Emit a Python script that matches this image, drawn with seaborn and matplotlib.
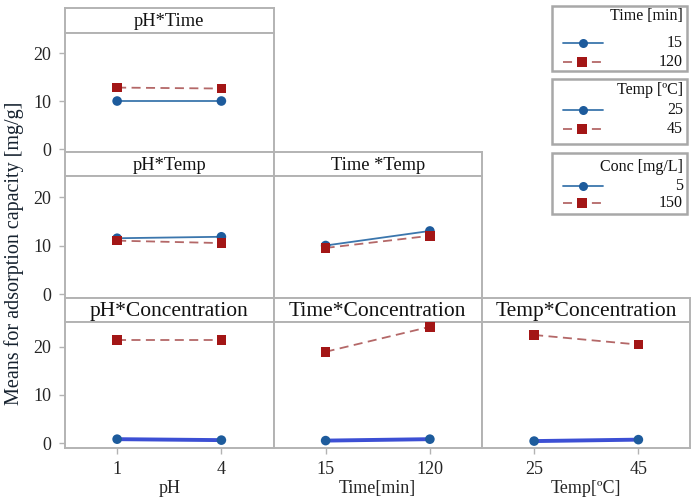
import numpy as np
import pandas as pd
import matplotlib
matplotlib.use("Agg")
import matplotlib.pyplot as plt
from matplotlib.patches import Rectangle
import seaborn as sns

# ---------------- data ----------------
ph_levels = ["1", "4"]
time_levels = ["15", "120"]
temp_levels = ["25", "45"]
conc_levels = ["5", "150"]

# pH*Time  (series = Time)
ph_time_15 = [10.0, 10.0]
ph_time_120 = [12.8, 12.6]
# pH*Temp (series = Temp)
ph_temp_25 = [11.5, 11.8]
ph_temp_45 = [11.0, 10.5]
# Time*Temp (series = Temp)
time_temp_25 = [10.0, 13.0]
time_temp_45 = [9.5, 12.0]
# pH*Concentration (series = Conc)
ph_conc_5 = [0.8, 0.6]
ph_conc_150 = [21.5, 21.5]
# Time*Concentration
time_conc_5 = [0.5, 0.8]
time_conc_150 = [19.0, 24.2]
# Temp*Concentration
temp_conc_5 = [0.4, 0.7]
temp_conc_150 = [22.5, 20.5]

panel_titles = ["pH*Time", "pH*Temp", "Time *Temp",
                "pH*Concentration", "Time*Concentration", "Temp*Concentration"]
x_axis_labels = ["pH", "Time[min]", "Temp[\u00baC]"]
y_label = "Means for adsorption capacity [mg/g]"
legend_titles = ["Time [min]", "Temp [\u00baC]", "Conc [mg/L]"]
yticks = [0, 10, 20]

# ---------------- style ----------------
sns.set_style("white")
plt.rcParams["font.family"] = ["Liberation Serif", "DejaVu Serif"]
plt.rcParams["text.color"] = "#111111"

W, H = 696, 500
fig = plt.figure(figsize=(6.96, 5.0), dpi=100)

GRAY = "#b3b3b3"
BLUE_LINE = "#3b76ad"
BLUE_MARK = "#1d5b9c"
RED_LINE = "#b46868"
RED_MARK = "#a31616"
CONC_BLUE = "#3c4fd4"

col_left = [65, 273.5, 482]
col_w = 208.5
rows = [(8, 33, 152), (152, 176, 298), (298, 322, 448)]
row_ylim = [(-0.62, 24.17), (-0.82, 24.33), (-1.04, 25.2)]


def fr(x0, y0, x1, y1):
    return [x0 / W, 1 - y1 / H, (x1 - x0) / W, (y1 - y0) / H]


def make_df(xlevels, s1, s2, v1, v2):
    return pd.DataFrame({
        "x": list(xlevels) * 2,
        "y": list(v1) + list(v2),
        "s": [s1] * len(xlevels) + [s2] * len(xlevels),
    })


panels = [
    # (row, col, xlevels, serieslevels, v1, v2, title)
    (0, 0, ph_levels, time_levels, ph_time_15, ph_time_120, panel_titles[0]),
    (1, 0, ph_levels, temp_levels, ph_temp_25, ph_temp_45, panel_titles[1]),
    (1, 1, time_levels, temp_levels, time_temp_25, time_temp_45, panel_titles[2]),
    (2, 0, ph_levels, conc_levels, ph_conc_5, ph_conc_150, panel_titles[3]),
    (2, 1, time_levels, conc_levels, time_conc_5, time_conc_150, panel_titles[4]),
    (2, 2, temp_levels, conc_levels, temp_conc_5, temp_conc_150, panel_titles[5]),
]

for (r, c, xl, sl, v1, v2, title) in panels:
    top, hb, bot = rows[r]
    x0 = col_left[c]
    x1 = x0 + col_w
    # header
    hax = fig.add_axes(fr(x0, top, x1, hb))
    hax.set_xticks([]); hax.set_yticks([])
    for sp in hax.spines.values():
        sp.set_color(GRAY); sp.set_linewidth(1.4)
    hax.text(0.5, 0.45, title, ha="center", va="center",
             fontsize=15.5 if r == 2 else 13.3, transform=hax.transAxes)
    # plot
    ax = fig.add_axes(fr(x0, hb, x1, bot))
    df = make_df(xl, sl[0], sl[1], v1, v2)
    is_conc = (r == 2)
    line_pal = {sl[0]: CONC_BLUE if is_conc else BLUE_LINE, sl[1]: RED_LINE}
    sns.lineplot(data=df, x="x", y="y", hue="s", style="s", palette=line_pal,
                 dashes={sl[0]: "", sl[1]: (5, 3)}, markers=False,
                 sort=False, legend=False, ax=ax, estimator=None)
    for ln in ax.get_lines():
        ln.set_linewidth(1.3)
    if is_conc:
        ax.get_lines()[0].set_linewidth(2.8)
    mark_pal = {sl[0]: BLUE_MARK, sl[1]: RED_MARK}
    sns.scatterplot(data=df, x="x", y="y", hue="s", style="s", palette=mark_pal,
                    markers={sl[0]: "o", sl[1]: "s"}, s=48, linewidth=0,
                    legend=False, ax=ax, zorder=5)
    ax.set_xlim(-0.5, 1.5)
    ax.set_ylim(*row_ylim[r])
    for sp in ax.spines.values():
        sp.set_color(GRAY); sp.set_linewidth(1.4)
    ax.set_ylabel("")
    if c == 0:
        ax.set_yticks(yticks)
        ax.set_yticklabels([str(t) for t in yticks], fontsize=13)
        ax.tick_params(axis="y", length=4, color=GRAY, width=1, pad=6, left=True)
    else:
        ax.set_yticks([])
    if r == 2:
        ax.set_xticks([0, 1])
        ax.set_xticklabels(xl, fontsize=13)
        ax.tick_params(axis="x", length=4, color=GRAY, width=1, pad=5, bottom=True)
        ax.set_xlabel(x_axis_labels[c], fontsize=13, labelpad=1.5)
    else:
        ax.set_xticks([])
        ax.set_xlabel("")

fig.text(14 / W, 1 - 253 / H, y_label, rotation=90, ha="center", va="center",
         fontsize=14.5, color="#16222f")

# ---------------- legends ----------------
lax = fig.add_axes([0, 0, 1, 1], zorder=10)
lax.set_xlim(0, W); lax.set_ylim(H, 0); lax.axis("off")
lax.patch.set_alpha(0)
leg_levels = [time_levels, temp_levels, conc_levels]
boxes = [(6, 71, 16, 43, 62), (79, 144, 90, 110, 129), (153, 214, 167, 186, 203)]
for (bt, bb, ty, e1, e2), ttl, lv in zip(boxes, legend_titles, leg_levels):
    lax.add_patch(Rectangle((552, bt), 135, bb - bt, facecolor="white",
                            edgecolor="#a8a8a8", linewidth=1.8))
    lax.text(683, ty, ttl, ha="right", va="center", fontsize=11.5)
    lax.plot([563, 603], [e1, e1], color=BLUE_LINE, lw=1.3)
    lax.plot([583], [e1], marker="o", color=BLUE_MARK, ms=6.5, mew=0)
    lax.plot([563, 606], [e2, e2], color=RED_LINE, lw=1.3, dashes=(5, 3))
    lax.plot([582], [e2], marker="s", color=RED_MARK, ms=6.5, mew=0)
    lax.text(683, e1, lv[0], ha="right", va="center", fontsize=11.5)
    lax.text(683, e2, lv[1], ha="right", va="center", fontsize=11.5)

fig.savefig("out.png", dpi=100)
